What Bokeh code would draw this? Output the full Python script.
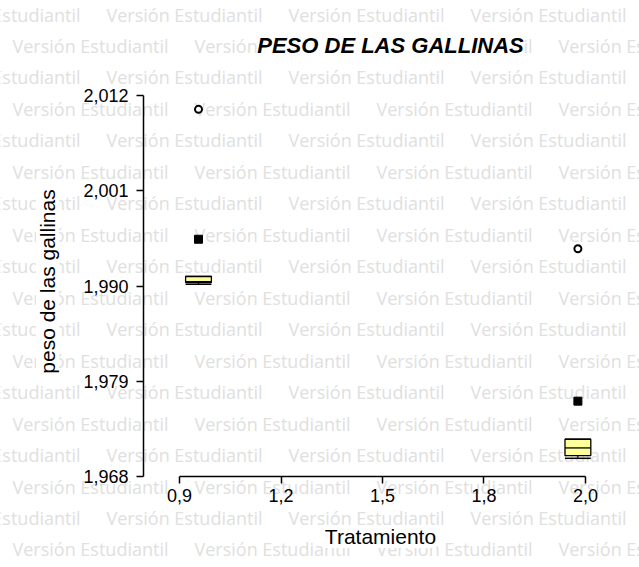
import math

from bokeh.core.properties import value
from bokeh.embed import file_html
from bokeh.models import ColumnDataSource, FixedTicker, Label, Range1d
from bokeh.plotting import figure
from bokeh.resources import INLINE

# Hen weight by treatment: box-plot summaries (kg)
tratamientos = [1, 2]
minimos = [1.9902, 1.9701]
q1 = [1.9904, 1.9704]
medianas = [1.9905, 1.9713]
q3 = [1.9911, 1.9723]
maximos = [1.9911, 1.9723]
medias = [1.9954, 1.9767]
atipicos_x = [1, 2]
atipicos_y = [2.0104, 1.9943]

x_ticks = [0.95, 1.2175, 1.485, 1.7525, 2.02]
x_tick_labels = ["0,9", "1,2", "1,5", "1,8", "2,0"]
y_ticks = [1.968, 1.979, 1.990, 2.001, 2.012]
y_tick_labels = ["1,968", "1,979", "1,990", "2,001", "2,012"]

# ---- layout: the frame spans the whole canvas, axes sit at fixed spots ----
W, H = 639, 567
PX_PER_X = 379.4            # pixels per treatment unit
X_REF_PX = 198              # pixel column of treatment 1
PX_PER_Y = 381 / 0.044      # pixels per kg
Y_REF_PX = 476              # pixel row of the lowest y tick
X_START = 1 - X_REF_PX / PX_PER_X
X_END = 1 + (W - X_REF_PX) / PX_PER_X
Y_END = y_ticks[0] + Y_REF_PX / PX_PER_Y
Y_START = y_ticks[0] - (H - Y_REF_PX) / PX_PER_Y
BOX_W = 0.068


def sx(px):
    return X_START + px / PX_PER_X


def sy(py):
    return Y_END - py / PX_PER_Y


p = figure(
    width=W, height=H,
    x_range=Range1d(X_START, X_END), y_range=Range1d(Y_START, Y_END),
    output_backend="svg", toolbar_location=None, min_border=0,
)
p.title.visible = False
p.outline_line_color = None
p.xgrid.visible = False
p.ygrid.visible = False
p.background_fill_color = "white"
p.border_fill_color = "white"

# ---- background watermark ----
wm_x, wm_y = [], []
for k in range(18):
    py = 14 + k * 31.47
    px = -76 if k % 2 == 0 else 12
    while px < W:
        wm_x.append(sx(px))
        wm_y.append(sy(py))
        px += 182
wm_src = ColumnDataSource(dict(x=wm_x, y=wm_y, text=["Versión Estudiantil"] * len(wm_x)))
p.text(x="x", y="y", text="text", source=wm_src, level="image",
       text_font=value("Open Sans"), text_font_size=value("18px"), text_color="#e0e0e0",
       text_align="left", text_baseline="middle")

# ---- axes ----
for ax in (p.xaxis, p.yaxis):
    ax.axis_line_color = "black"
    ax.axis_line_width = 1.5
    ax.major_tick_line_color = "black"
    ax.major_tick_line_width = 1.5
    ax.major_tick_in = 0
    ax.major_tick_out = 7
    ax.minor_tick_line_color = None
    ax.major_label_text_font = "Liberation Sans"
    ax.major_label_text_font_size = "18px"
    ax.major_label_text_color = "black"
    try:
        ax.major_label_background_fill_color = "white"
    except Exception:
        pass

p.xaxis.ticker = FixedTicker(ticks=x_ticks)
p.xaxis.major_label_overrides = dict(zip(x_ticks, x_tick_labels))
p.xaxis.bounds = (x_ticks[0], x_ticks[-1])
p.xaxis.major_label_standoff = 5
p.xaxis.fixed_location = y_ticks[0]

p.yaxis.ticker = FixedTicker(ticks=y_ticks)
p.yaxis.major_label_overrides = dict(zip(y_ticks, y_tick_labels))
p.yaxis.bounds = (y_ticks[0], y_ticks[-1])
p.yaxis.major_label_standoff = 8
p.yaxis.fixed_location = sx(143)

# ---- boxes ----
half = BOX_W / 2
lefts = [t - half for t in tratamientos]
rights = [t + half for t in tratamientos]
p.segment(x0=tratamientos, y0=q1, x1=tratamientos, y1=minimos, line_color="black", line_width=1.2)
p.segment(x0=tratamientos, y0=q3, x1=tratamientos, y1=maximos, line_color="black", line_width=1.2)
p.segment(x0=lefts, y0=minimos, x1=rights, y1=minimos, line_color="black", line_width=1.5)
p.segment(x0=lefts, y0=maximos, x1=rights, y1=maximos, line_color="black", line_width=1.5)
p.vbar(x=tratamientos, width=BOX_W, bottom=q1, top=q3,
       fill_color="#ffff99", line_color="black", line_width=1.3)
p.segment(x0=lefts, y0=medianas, x1=rights, y1=medianas, line_color="black", line_width=1.3)

# means and outlying values
p.scatter(x=tratamientos, y=medias, marker="square", size=8,
          fill_color="black", line_color="black")
p.scatter(x=atipicos_x, y=atipicos_y, marker="circle", size=7,
          fill_color="white", line_color="black", line_width=2)

# ---- titles ----
p.add_layout(Label(
    x=sx(390), y=sy(45), text="PESO DE LAS GALLINAS", text_color="black",
    text_font="Liberation Sans", text_font_style="bold italic", text_font_size="22px",
    text_align="center", text_baseline="middle", background_fill_color="white",
))
p.add_layout(Label(
    x=sx(380), y=sy(536), text="Tratamiento", text_color="black",
    text_font="Liberation Sans", text_font_size="21px",
    text_align="center", text_baseline="middle", background_fill_color="white",
))
p.add_layout(Label(
    x=sx(47), y=sy(281), text="peso de las gallinas", angle=math.pi / 2, text_color="black",
    text_font="Liberation Sans", text_font_size="21px",
    text_align="center", text_baseline="middle", background_fill_color="white",
))

open("out.html", "w").write(file_html(p, INLINE))
